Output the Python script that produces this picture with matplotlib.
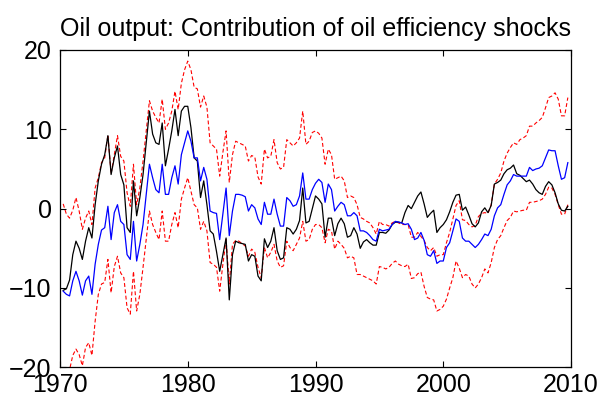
import numpy as np
import matplotlib
matplotlib.use("Agg")
import matplotlib.pyplot as plt

plt.rcParams['font.family'] = ['Liberation Sans', 'DejaVu Sans']

# quarterly observations, 1970Q2 .. 2009Q4 (plotted at 1970.25 ... 2009.75)
start_year = 1970.25

median = [
    -10.3, -10.1, -9.0,
    -5.8, -4.1, -5.0, -6.4,
    -4.1, -2.4, -3.7, 0.5,
    3.5, 5.6, 6.8, 9.2,
    4.3, 6.4, 7.9, 4.3,
    3.0, -2.4, -3.0, 3.5,
    -0.9, 1.4, 4.3, 8.3,
    12.3, 9.4, 8.3, 8.1,
    10.8, 5.4, 7.5, 9.8,
    12.5, 9.2, 12.3, 12.9,
    12.9, 10.2, 6.4, 6.0,
    1.4, 3.5, 0.5, -2.8,
    -3.2, -5.4, -7.9, -5.8,
    -3.7, -11.5, -5.8, -4.1,
    -4.3, -4.4, -4.5, -6.6,
    -5.8, -6.0, -8.5, -9.1,
    -3.8, -4.9, -4.1, -2.4,
    -5.3, -6.4, -6.2, -2.4,
    -2.6, -3.2, -2.6, -1.5,
    2.6, -1.8, -1.6, 0.0,
    1.6, 1.2, 0.6, -3.6,
    -1.2, -1.2, -3.4, -1.9,
    -1.2, -1.9, -3.6, -3.4,
    -2.4, -3.2, -5.0, -4.2,
    -3.9, -4.3, -4.6, -4.6,
    -3.0, -3.0, -3.1, -2.7,
    -2.0, -1.7, -1.7, -1.8,
    -0.5, 0.4, 0.0, 0.8,
    1.6, 2.1, 0.6, -1.1,
    -0.6, -0.2, -3.0, -2.4,
    -2.0, -1.4, -0.4, 0.8,
    1.7, 1.8, -0.2, 0.2,
    -0.8, -1.9, -2.3, -1.8,
    -0.4, 0.1, -0.5, 0.4,
    3.1, 3.3, 3.6, 4.4,
    4.9, 5.1, 5.5, 4.4,
    4.2, 3.8, 3.4, 3.6,
    3.1, 2.4, 2.0, 1.8,
    2.8, 3.4, 3.0, 2.0,
    0.6, -0.2, -0.3, 0.3,
]

contribution = [
    -10.4, -10.8, -11.0,
    -9.1, -7.9, -9.1, -10.9,
    -9.1, -8.5, -10.8, -7.0,
    -4.5, -2.7, -2.4, 0.3,
    -3.9, -0.5, 0.5, -1.6,
    -2.0, -5.8, -6.4, -1.6,
    -6.6, -4.5, -2.0, 1.8,
    5.6, 3.9, 2.4, 2.0,
    5.6, 1.8, 1.8, 3.9,
    5.4, 3.1, 6.8, 8.3,
    9.8, 8.5, 6.4, 6.4,
    3.5, 5.2, 3.7, -0.3,
    -0.5, -0.6, -3.9, -0.7,
    2.6, -3.4, -0.3, 1.8,
    1.8, 1.7, 1.5, -0.3,
    0.5, 0.1, -1.3, -2.0,
    0.8, -0.7, -0.7, 1.2,
    -0.7, -2.2, -2.2, 1.4,
    1.0, 0.3, 0.5, 1.6,
    4.5, 1.2, 1.2, 2.4,
    3.2, 3.7, 3.3, 0.8,
    3.1, 2.4, -0.3, 0.3,
    0.8, 0.5, -0.9, -0.9,
    -0.5, -0.9, -2.8, -2.8,
    -3.0, -3.4, -3.9, -4.1,
    -2.6, -2.8, -2.7, -2.6,
    -2.0, -1.6, -1.7, -1.8,
    -2.0, -1.9, -2.6, -3.9,
    -3.7, -3.0, -4.0, -5.8,
    -6.0, -5.3, -6.9, -6.6,
    -6.6, -4.9, -4.3, -2.8,
    -1.3, -1.6, -3.7, -4.1,
    -4.1, -4.5, -4.9, -4.5,
    -3.9, -3.2, -3.4, -2.6,
    -0.9, 0.1, 0.5, 1.8,
    3.0, 3.5, 4.3, 4.1,
    4.1, 4.1, 4.1, 5.2,
    4.8, 5.0, 5.1, 5.4,
    6.4, 7.4, 7.3, 7.3,
    5.4, 3.7, 3.9, 5.8,
]

upper = [
    0.6, -0.7, -1.2,
    -0.2, 1.4, -0.3, -2.6,
    -1.2, -0.3, -2.0, 2.6,
    3.9, 5.8, 6.4, 9.3,
    4.4, 6.8, 9.2, 6.6,
    6.0, 2.0, 0.3, 5.6,
    0.5, 2.6, 6.0, 9.8,
    13.6, 12.3, 11.5, 10.8,
    13.8, 10.0, 10.8, 12.3,
    14.8, 12.5, 15.8, 17.5,
    18.6, 17.5, 15.3, 15.1,
    12.8, 14.2, 12.8, 8.3,
    7.9, 7.5, 4.1, 7.1,
    9.8, 3.3, 6.8, 8.5,
    8.3, 8.1, 7.9, 6.0,
    6.7, 6.5, 4.0, 3.1,
    7.5, 6.4, 6.6, 8.7,
    5.8, 5.0, 5.2, 8.7,
    8.3, 7.9, 8.3, 8.9,
    12.3, 8.1, 8.5, 9.6,
    9.8, 9.5, 8.9, 5.6,
    7.5, 6.8, 3.7, 3.9,
    4.1, 3.5, 1.4, 1.6,
    1.4, 0.5, -1.1, -1.3,
    -1.6, -1.8, -2.4, -3.2,
    -1.6, -2.0, -2.0, -2.2,
    -1.8, -1.6, -1.8, -2.0,
    -2.0, -2.0, -3.6, -3.6,
    -3.0, -3.5, -4.0, -4.9,
    -5.3, -4.9, -6.0, -5.8,
    -5.8, -4.3, -3.0, -1.3,
    0.4, 1.0, -1.4, -1.5,
    -2.0, -2.3, -2.1, -1.0,
    -0.6, -0.5, -0.6, 0.5,
    3.1, 3.7, 4.5, 6.0,
    7.0, 7.7, 8.3, 8.1,
    8.7, 8.9, 9.2, 10.4,
    10.4, 10.8, 11.1, 11.5,
    12.7, 14.0, 14.2, 14.6,
    13.8, 11.7, 11.7, 14.0,
]

lower = [
    -23.0, -22.5, -20.3,
    -18.5, -17.7, -18.4, -19.8,
    -17.5, -16.9, -18.5, -14.2,
    -10.8, -9.5, -9.3, -6.4,
    -10.6, -7.3, -6.0, -8.1,
    -8.7, -12.5, -13.3, -7.9,
    -12.9, -10.8, -7.4, -3.8,
    -0.3, -2.0, -3.0, -3.9,
    -0.3, -4.1, -4.1, -2.0,
    -0.5, -2.4, 1.2, 2.6,
    3.9, 2.2, 0.5, 0.1,
    -2.6, -1.6, -2.8, -6.8,
    -7.0, -7.4, -10.4, -7.0,
    -3.9, -9.5, -4.5, -4.0,
    -4.1, -4.4, -4.7, -6.0,
    -5.1, -5.5, -7.4, -8.7,
    -4.9, -6.2, -5.5, -4.5,
    -6.6, -7.4, -7.2, -4.1,
    -4.9, -5.3, -4.5, -3.7,
    -1.6, -4.1, -3.9, -2.6,
    -2.0, -2.0, -2.4, -4.3,
    -2.6, -2.8, -5.1, -4.1,
    -4.5, -5.0, -6.2, -6.0,
    -6.2, -8.3, -8.3, -8.5,
    -8.7, -8.9, -9.1, -9.5,
    -7.3, -7.4, -7.6, -7.4,
    -6.9, -6.6, -7.0, -7.2,
    -7.3, -7.0, -8.8, -8.7,
    -8.2, -8.0, -9.8, -11.2,
    -11.4, -11.5, -12.9, -12.7,
    -12.3, -11.4, -10.0, -8.7,
    -6.6, -7.5, -8.7, -8.3,
    -8.5, -9.5, -10.0, -9.5,
    -8.7, -7.6, -8.1, -6.8,
    -4.9, -3.9, -3.4, -2.4,
    -1.5, -1.1, -0.3, -0.4,
    -0.3, -0.2, -0.2, 0.8,
    0.8, 0.9, 1.0, 1.2,
    1.8, 2.7, 2.6, 1.8,
    0.5, -0.7, -0.7, 0.5,
]

x_ticks = [1970, 1980, 1990, 2000, 2010]
y_ticks = [-20, -10, 0, 10, 20]
title = 'Oil output: Contribution of oil efficiency shocks'

dates = start_year + np.arange(len(median)) / 4.0

fig = plt.figure(figsize=(6.16, 4.07), dpi=100)
ax = fig.add_axes([0.0974, 0.0975, 0.8296, 0.7797])

dash = (0, (3.5, 2.2))
ax.plot(dates, upper, color='red', lw=0.8, linestyle=dash)
ax.plot(dates, lower, color='red', lw=0.8, linestyle=dash)
ax.plot(dates, median, color='black', lw=0.9)
ax.plot(dates, contribution, color='blue', lw=0.9)

ax.set_xlim(1970, 2010)
ax.set_ylim(-20, 20)
ax.set_xticks(x_ticks)
ax.set_yticks(y_ticks)
ax.tick_params(direction='in', length=4.5, width=0.8, labelsize=18,
               top=True, right=True)
ax.tick_params(axis='x', pad=4)
ax.tick_params(axis='y', pad=6)
for s in ax.spines.values():
    s.set_linewidth(0.9)
ax.set_title(title, fontsize=18, pad=10)

fig.savefig('out.png', dpi=100)
